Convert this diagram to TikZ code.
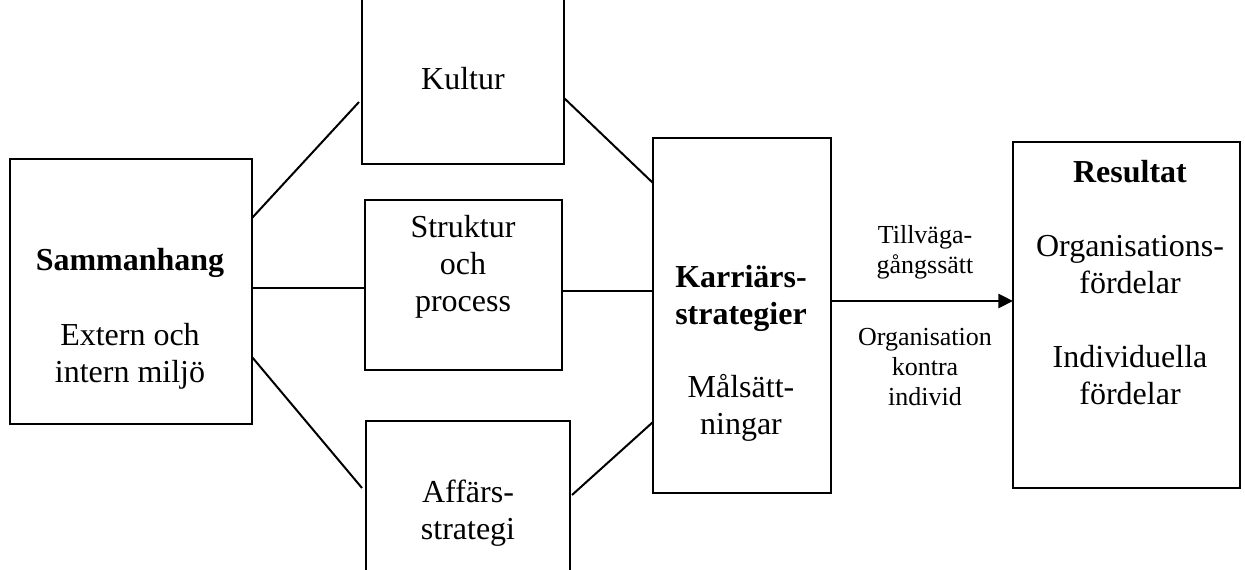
\documentclass[tikz,border=0pt]{standalone}
\usepackage{fontspec}
\setmainfont{Liberation Serif}
\usetikzlibrary{arrows.meta}
\newdimen\pxu
\pxu=0.75pt
\begin{document}
\begin{tikzpicture}[x=0.75pt,y=-0.75pt,
  box/.style={draw,line width=1.5pt,rectangle,inner sep=0pt,outer sep=0pt},
  boxtext/.style={align=center,inner sep=0pt,font=\fontsize{24}{27.75}\selectfont},
  boldtext/.style={boxtext,font=\fontsize{24}{27.75}\selectfont\bfseries},
  smalltext/.style={align=center,inner sep=0pt,font=\fontsize{19.5}{22.5}\selectfont},
  link/.style={line width=1.5pt},
  flow/.style={line width=2.2pt,-{Triangle[length=11pt,width=10.5pt]}}]
\useasboundingbox (0,0) rectangle (1245,570);
\fill[white] (0,0) rectangle (1245,570);

% boxes: centre in px, sizes in px units (upper and lower boxes run past the page)
\node[box,minimum width=242\pxu,minimum height=265\pxu] (sam) at (131,291.5) {};
\node[box,minimum width=202\pxu,minimum height=170\pxu] (kul) at (463,79) {};
\node[box,minimum width=197\pxu,minimum height=170\pxu] (str) at (463.5,285) {};
\node[box,minimum width=204\pxu,minimum height=170\pxu] (aff) at (468,506) {};
\node[box,minimum width=178\pxu,minimum height=355\pxu] (kar) at (742,315.5) {};
\node[box,minimum width=227\pxu,minimum height=346\pxu] (res) at (1126.5,315) {};

% texts
\node[boldtext] (samT) at (130,263) {Sammanhang};
\node[boxtext] (samS) at (130,356) {Extern och\\intern miljö};
\node[boxtext] (kulT) at (463,79) {Kultur};
\node[boxtext] (strT) at (463,267) {Struktur\\och\\process};
\node[boxtext] (affT) at (468,513) {Affärs-\\strategi};
\node[boldtext] (karT) at (741,298) {Karriärs-\\strategier};
\node[boxtext] (karS) at (741,408) {Målsätt-\\ningar};
\node[boldtext] (resT) at (1130,172) {Resultat};
\node[boxtext] (resA) at (1130,265) {Organisations-\\fördelar};
\node[boxtext] (resB) at (1130,375) {Individuella\\fördelar};
\node[smalltext] (wayT) at (925,252) {Tillväga-\\gångssätt};
\node[smalltext] (wayB) at (925,367) {Organisation\\kontra\\individ};

% connectors
\draw[link] (sam.east |- 0,218) -- ([xshift=-3\pxu]kul.west |- 0,102);
\draw[link] (sam.east |- 0,288) -- (str.west |- 0,288);
\draw[link] (sam.east |- 0,357) -- ([xshift=-4\pxu]aff.west |- 0,488);
\draw[link] (kul.east |- 0,98) -- (kar.west |- 0,183);
\draw[link] (str.east |- 0,291) -- (kar.west |- 0,291);
\draw[link] ([xshift=2\pxu]aff.east |- 0,495) -- (kar.west |- 0,422);
\draw[flow] (kar.east |- 0,301) -- (res.west |- 0,301);
\end{tikzpicture}
\end{document}
